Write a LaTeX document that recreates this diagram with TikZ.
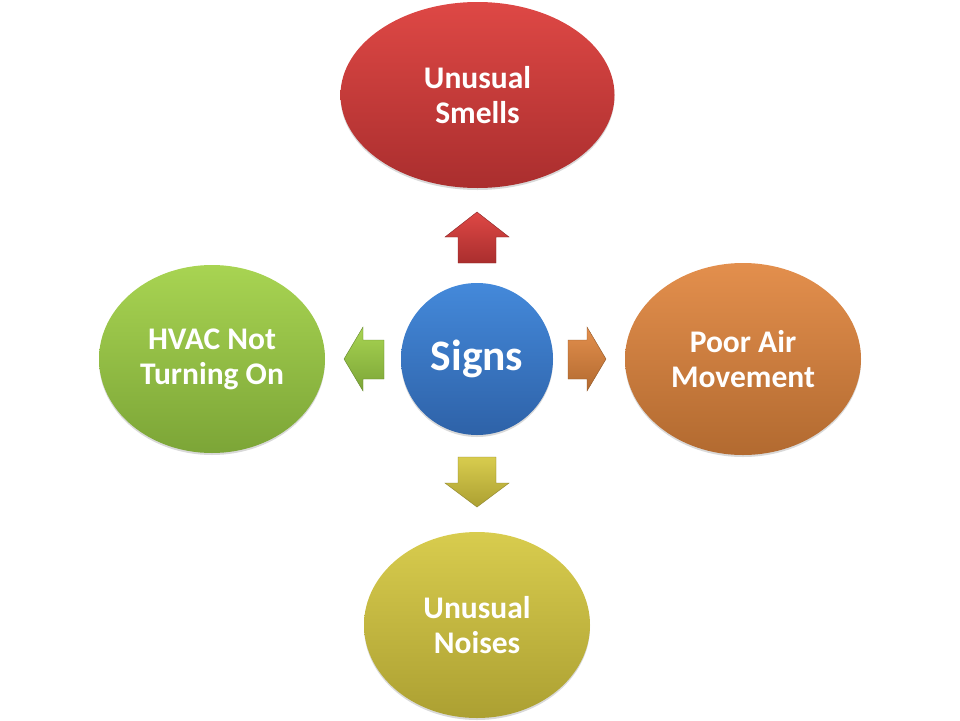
\documentclass[tikz,border=0pt]{standalone}
\usepackage{fontspec}
\setmainfont{Carlito}
\usetikzlibrary{shapes.geometric,shadows}
\definecolor{redT}{HTML}{DE4845}\definecolor{redB}{HTML}{AA2E2E}
\definecolor{bluT}{HTML}{4489DA}\definecolor{bluB}{HTML}{2E62A8}
\definecolor{grnT}{HTML}{A8D452}\definecolor{grnB}{HTML}{7CA537}
\definecolor{ornT}{HTML}{E38F4D}\definecolor{ornB}{HTML}{B26A30}
\definecolor{ylwT}{HTML}{D8CC4E}\definecolor{ylwB}{HTML}{ACA032}
\tikzset{
  blob/.style={ellipse, inner sep=0pt, align=center, text=white,
    font=\fontsize{31.5}{35}\selectfont\bfseries,
    drop shadow={shadow xshift=0pt, shadow yshift=-2pt, opacity=0.25, fill=black!60}},
  barrow/.style={draw=#1!80!black, line width=0.4pt},
}
\begin{document}
\begin{tikzpicture}[x=1pt,y=-1pt]
\useasboundingbox (0,0) rectangle (960,720);
% central circle
\node[blob, circle, minimum size=152pt, top color=bluT, bottom color=bluB,
  font=\fontsize{43.5}{48}\selectfont\bfseries] (signs) at (477,359) {Signs};
\node[blob, minimum width=274pt, minimum height=186pt, top color=redT, bottom color=redB] (smells) at (477.5,95) {Unusual\\Smells};
\node[blob, minimum width=226pt, minimum height=188pt, top color=grnT, bottom color=grnB] (hvac) at (212,359) {HVAC Not\\Turning On};
\node[blob, minimum width=236pt, minimum height=192pt, top color=ornT, bottom color=ornB] (air) at (743,359) {Poor Air\\Movement};
\node[blob, minimum width=226pt, minimum height=186pt, top color=ylwT, bottom color=ylwB] (noises) at (477,625) {Unusual\\Noises};
% block arrows
\path[barrow=redB, top color=redT, bottom color=redB]
  (477,212) -- (509,237) -- (496,237) -- (496,263) -- (458,263) -- (458,237) -- (445,237) -- cycle;
\path[barrow=ylwB, top color=ylwT, bottom color=ylwB]
  (477,507) -- (509,483) -- (496,483) -- (496,457) -- (458,457) -- (458,483) -- (445,483) -- cycle;
\path[barrow=grnB, top color=grnT, bottom color=grnB]
  (344,359) -- (363,327) -- (363,340) -- (384,340) -- (384,379) -- (363,379) -- (363,391) -- cycle;
\path[barrow=ornB, top color=ornT, bottom color=ornB]
  (606,359) -- (587,327) -- (587,340) -- (568,340) -- (568,379) -- (587,379) -- (587,391) -- cycle;
\end{tikzpicture}
\end{document}
